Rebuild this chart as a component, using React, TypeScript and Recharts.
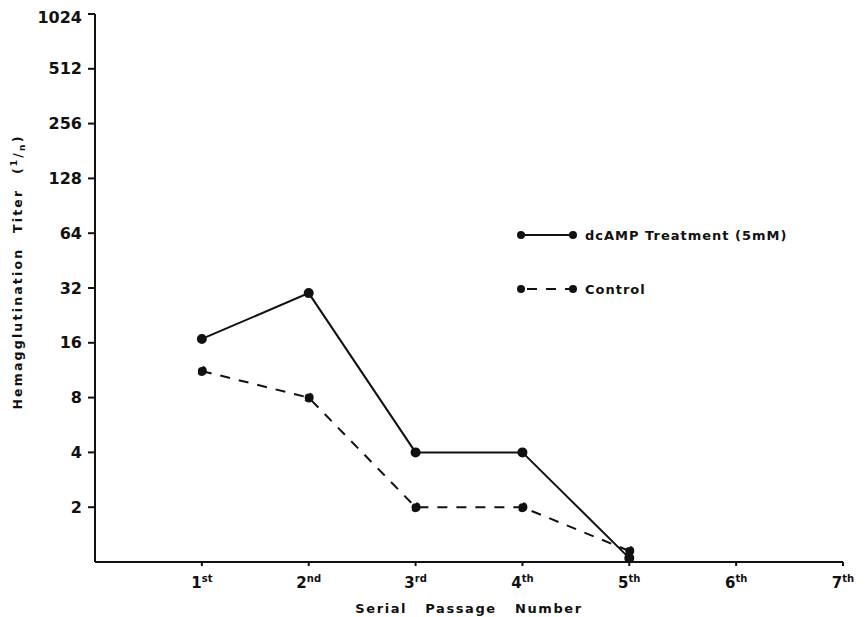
import React from 'react'
import { LineChart, Line, XAxis, YAxis, Label } from 'recharts'

// serial passage number (1st..7th)
const passages = [1, 2, 3, 4, 5]
const passageTicks = [1, 2, 3, 4, 5, 6, 7]
const passageSuffix = ['', 'st', 'nd', 'rd', 'th', 'th', 'th', 'th']

// hemagglutination titer (1/n)
const dcampTiter = [16.8, 30, 4, 4, 1.05]
const controlTiter = [11.2, 8, 2, 2, 1.15]
const titerTicks = [2, 4, 8, 16, 32, 64, 128, 256, 512, 1024]

const data = passages.map((p, i) => ({
    passage: p,
    dcamp: dcampTiter[i],
    control: controlTiter[i],
}))

const FONT = '"DejaVu Sans", sans-serif'

const PassageTick = (props: any) => {
    const { x, y, payload } = props
    return (
        <text x={x} y={y + 20} textAnchor="middle" fontFamily={FONT} fontWeight="bold" fill="#111">
            <tspan fontSize={15}>{payload.value}</tspan>
            <tspan fontSize={10} dy={-6}>{passageSuffix[payload.value]}</tspan>
        </text>
    )
}

const TiterLabel = () => (
    <text
        transform="translate(14, 264) rotate(-90)"
        textAnchor="middle"
        fontFamily={FONT}
        fontWeight="bold"
        fontSize={12.5}
        letterSpacing={2.2}
        wordSpacing={8}
        fill="#111"
    >
        Hemagglutination Titer (
        <tspan fontSize={9} dy={-5}>1</tspan>
        <tspan dy={5}>/</tspan>
        <tspan fontSize={9} dy={3}>n</tspan>
        <tspan dy={-3}>)</tspan>
    </text>
)

// legend drawn as an overlay so it does not take room from the plot
const LegendBox = () => (
    <svg width={300} height={80} style={{ position: 'absolute', left: 505, top: 215 }}>
        <line x1={8} y1={12} x2={60} y2={12} stroke="#111" strokeWidth={2} />
        <circle cx={8} cy={12} r={4} fill="#111" />
        <circle cx={60} cy={12} r={4} fill="#111" />
        <text x={72} y={17} fontFamily={FONT} fontWeight="bold" fontSize={13} letterSpacing={1} fill="#111">
            dcAMP Treatment (5mM)
        </text>
        <line x1={8} y1={66} x2={60} y2={66} stroke="#111" strokeWidth={2} strokeDasharray="10 9" strokeDashoffset={-6} />
        <circle cx={8} cy={66} r={4} fill="#111" />
        <circle cx={60} cy={66} r={4} fill="#111" />
        <text x={72} y={71} fontFamily={FONT} fontWeight="bold" fontSize={13} letterSpacing={1} fill="#111">
            Control
        </text>
    </svg>
)

export default function App() {
    return (
        <div style={{ position: 'relative', width: 858, height: 609, background: '#fff' }}>
            <LineChart
                width={858}
                height={609}
                data={data}
                margin={{ top: 6, right: 23, left: 0, bottom: 0 }}
            >
                <XAxis
                    dataKey="passage"
                    type="number"
                    domain={[0, 7]}
                    ticks={passageTicks}
                    tick={<PassageTick />}
                    tickSize={4}
                    height={55}
                    stroke="#111"
                    strokeWidth={2}
                >
                    <Label
                        value="Serial Passage Number"
                        position="insideBottom"
                        offset={4}
                        style={{ fontFamily: FONT, fontWeight: 'bold', fontSize: 13, letterSpacing: 1.6, wordSpacing: 12, fill: '#111' }}
                    />
                </XAxis>
                <YAxis
                    scale="log"
                    domain={[1, 1024]}
                    ticks={titerTicks}
                    allowDataOverflow
                    width={87}
                    tickSize={7}
                    tickMargin={6}
                    stroke="#111"
                    strokeWidth={2}
                    tick={{ fontFamily: FONT, fontWeight: 'bold', fontSize: 16, fill: '#111' }}
                    label={<TiterLabel />}
                />
                <Line
                    dataKey="dcamp"
                    stroke="#111"
                    strokeWidth={2}
                    dot={{ r: 4, fill: '#111', stroke: '#111' }}
                    isAnimationActive={false}
                />
                <Line
                    dataKey="control"
                    stroke="#111"
                    strokeWidth={2}
                    strokeDasharray="10 9"
                    dot={{ r: 4, fill: '#111', stroke: '#111' }}
                    isAnimationActive={false}
                />
            </LineChart>
            <LegendBox />
        </div>
    )
}
